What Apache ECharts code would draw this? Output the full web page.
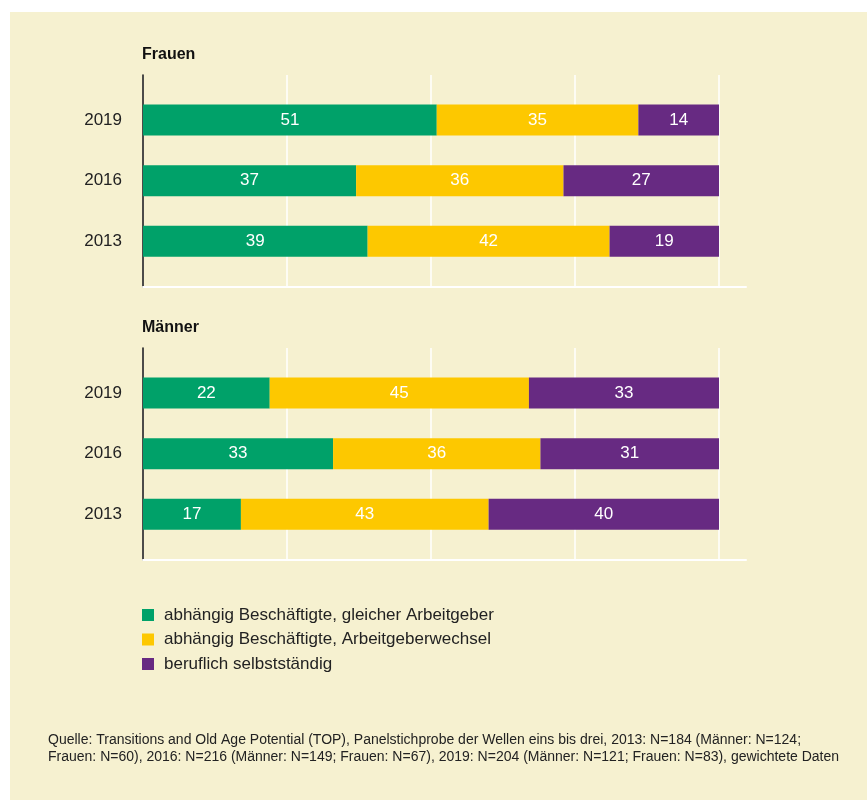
<!DOCTYPE html>
<html>
<head>
<meta charset="utf-8">
<script src="https://cdn.jsdelivr.net/npm/echarts@6/dist/echarts.min.js"></script>
<style>
  html, body { margin: 0; padding: 0; background: #ffffff; }
  #chart { width: 867px; height: 804px; }
</style>
</head>
<body>
<div id="chart"></div>
<script>
const years = ['2019', '2016', '2013'];
const seriesNames = [
  'abhängig Beschäftigte, gleicher Arbeitgeber',
  'abhängig Beschäftigte, Arbeitgeberwechsel',
  'beruflich selbstständig'
];
const frauenGleich = [51, 37, 39];
const frauenWechsel = [35, 36, 42];
const frauenSelbst = [14, 27, 19];
const maennerGleich = [22, 33, 17];
const maennerWechsel = [45, 36, 43];
const maennerSelbst = [33, 31, 40];
const panelTitles = ['Frauen', 'Männer'];
const xTicks = [0, 25, 50, 75, 100];
const sourceText = 'Quelle: Transitions and Old Age Potential (TOP), Panelstichprobe der Wellen eins bis drei, 2013: N=184 (Männer: N=124;\nFrauen: N=60), 2016: N=216 (Männer: N=149; Frauen: N=67), 2019: N=204 (Männer: N=121; Frauen: N=83), gewichtete Daten';

const colors = ['#00a169', '#fdc800', '#672a82'];
const FONT = '"Liberation Sans", Arial, Helvetica, sans-serif';
const panelData = [
  [frauenGleich, frauenWechsel, frauenSelbst],
  [maennerGleich, maennerWechsel, maennerSelbst]
];

const LEFT = 143, WIDTH = 576;
const panelTop = [75, 348];
const grids = [], xAxes = [], yAxes = [], series = [], titles = [];

panelTop.forEach(function (top, p) {
  const gBase = grids.length;
  grids.push({ left: LEFT, top: top, width: WIDTH, height: 212 });
  xAxes.push({
    gridIndex: gBase, type: 'value', min: xTicks[0], max: xTicks[xTicks.length - 1], interval: 25,
    axisLine: { show: false }, axisTick: { show: false }, axisLabel: { show: false },
    splitLine: { show: true, lineStyle: { color: '#ffffff', width: 1.5 } }
  });
  yAxes.push({
    gridIndex: gBase, type: 'value', min: 0, max: 1,
    axisLine: { show: true, onZero: false, lineStyle: { color: '#111111', width: 1.5 } },
    axisTick: { show: false }, axisLabel: { show: false }, splitLine: { show: false }
  });
  grids.push({ left: LEFT, top: top, width: 603, height: 212 });
  xAxes.push({
    gridIndex: gBase + 1, type: 'value', min: 0, max: 1,
    axisLine: { show: true, onZero: false, lineStyle: { color: '#ffffff', width: 2 } },
    axisTick: { show: false }, axisLabel: { show: false }, splitLine: { show: false }
  });
  yAxes.push({ gridIndex: gBase + 1, type: 'value', min: 0, max: 1, show: false });
  grids.push({ left: LEFT, top: top + 14.7, width: WIDTH, height: 182 });
  xAxes.push({ gridIndex: gBase + 2, type: 'value', min: 0, max: 100, show: false });
  yAxes.push({
    gridIndex: gBase + 2, type: 'category', data: years, inverse: true,
    axisLine: { show: false }, axisTick: { show: false }, splitLine: { show: false },
    axisLabel: { margin: 21, fontSize: 17, color: '#222222', fontFamily: FONT }
  });
  panelData[p].forEach(function (vals, s) {
    series.push({
      name: seriesNames[s], type: 'bar', stack: 'panel' + p,
      xAxisIndex: gBase + 2, yAxisIndex: gBase + 2,
      data: vals, barWidth: 31,
      itemStyle: { color: colors[s] },
      label: { show: true, position: 'inside', color: '#ffffff', fontSize: 17, fontFamily: FONT },
      emphasis: { disabled: true }, animation: false
    });
  });
  titles.push({
    text: panelTitles[p], left: LEFT - 1, top: top - 28, padding: 0,
    textStyle: { fontSize: 16, fontWeight: 'bold', color: '#111111', fontFamily: FONT }
  });
});

titles.push({
  text: sourceText, left: 48, top: 732, padding: 0,
  textStyle: { fontSize: 14, fontWeight: 'normal', color: '#222222', lineHeight: 17, fontFamily: FONT }
});

const chart = echarts.init(document.getElementById('chart'), null, { renderer: 'canvas' });
chart.setOption({
  animation: false,
  backgroundColor: '#ffffff',
  graphic: [{
    type: 'rect', z: -10, silent: true,
    shape: { x: 10, y: 12, width: 857, height: 788 },
    style: { fill: '#f6f1d0' }
  }],
  title: titles,
  legend: {
    orient: 'vertical', left: 142, top: 606.5, padding: 0,
    itemWidth: 12, itemHeight: 12, itemGap: 7.5,
    icon: 'rect',
    data: seriesNames,
    textStyle: { fontSize: 17, color: '#222222', fontFamily: FONT, lineHeight: 17, padding: [0, 0, 0, 5] },
    selectedMode: false
  },
  grid: grids,
  xAxis: xAxes,
  yAxis: yAxes,
  series: series
});
</script>
</body>
</html>
